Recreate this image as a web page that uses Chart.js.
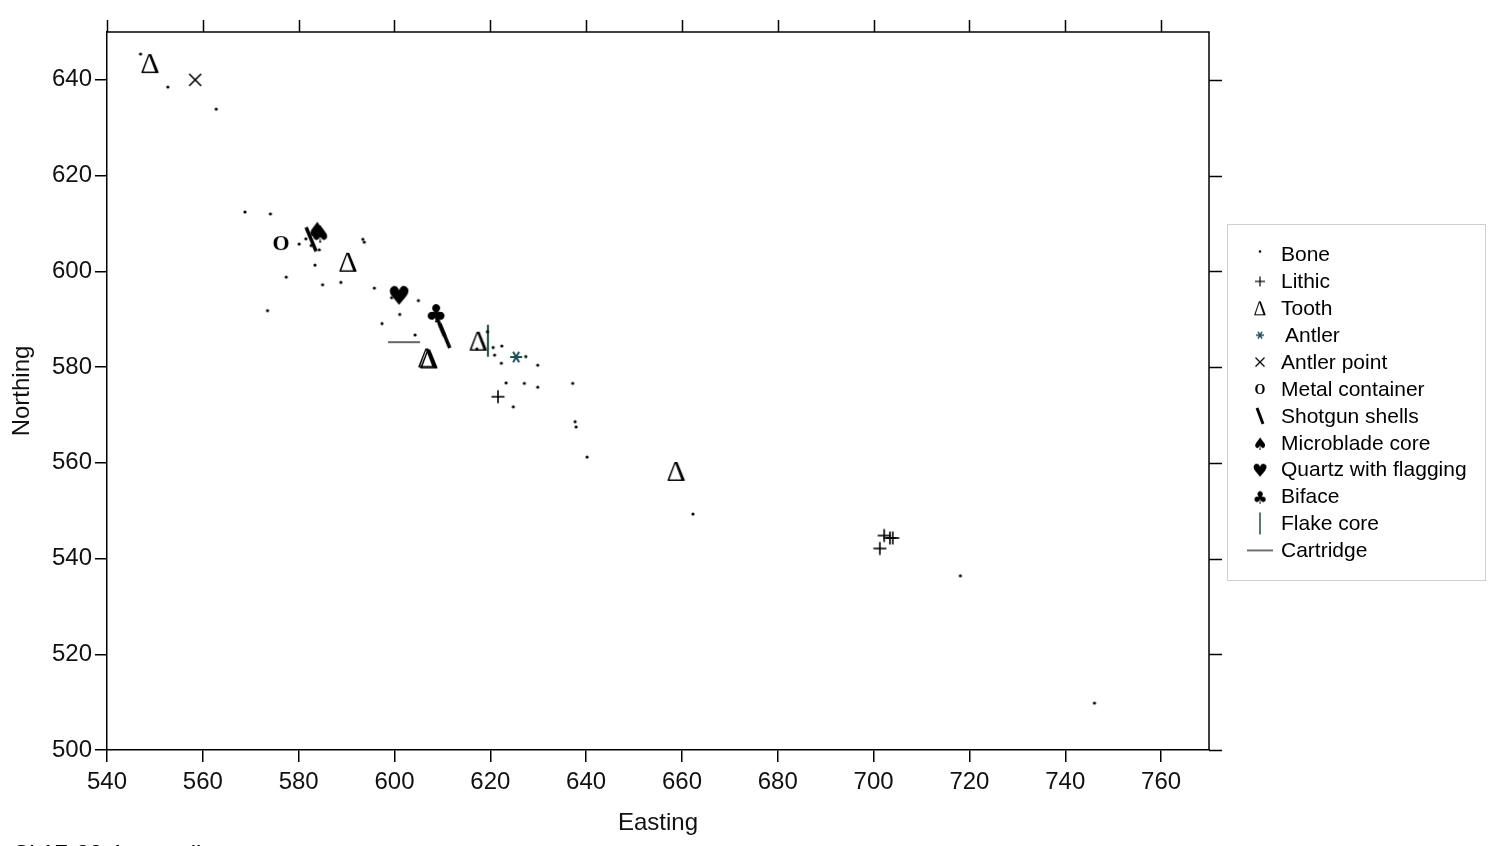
<!DOCTYPE html>
<html>
<head>
<meta charset="utf-8">
<script src="https://cdn.jsdelivr.net/npm/chart.js@4.4.0/dist/chart.umd.min.js"></script>
<style>
  html, body { margin: 0; padding: 0; background: #fff; overflow: hidden; }
  #wrap { position: relative; width: 1494px; height: 846px; }
  #caption { position: absolute; left: 12px; top: 840px; font: 24px "Liberation Sans", Arial, sans-serif; color: #000; white-space: nowrap; }
</style>
</head>
<body>
<div id="wrap">
  <canvas id="plot" width="1494" height="846"></canvas>
  <div id="caption">Cl 17-28-1 overall</div>
</div>
<script>
// axis ticks
const xTicks = [540, 560, 580, 600, 620, 640, 660, 680, 700, 720, 740, 760];
const yTicks = [500, 520, 540, 560, 580, 600, 620, 640];

// finds as [easting, northing]
const bone = [[547.0, 645.4], [552.7, 638.5], [562.8, 633.9], [568.8, 612.4], [574.1, 612.0],
  [580.1, 605.7], [581.5, 606.8], [582.6, 605.4], [584.3, 604.5], [583.4, 601.3], [577.4, 598.8],
  [585.0, 597.2], [588.8, 597.7], [593.4, 606.7], [593.7, 606.1], [573.5, 591.8], [595.8, 596.5],
  [599.4, 594.5], [605.0, 593.9], [601.1, 591.0], [597.4, 589.1], [604.3, 586.7], [619.4, 587.4],
  [617.2, 583.8], [620.6, 584.1], [622.4, 584.4], [620.9, 582.5], [622.3, 580.8], [627.4, 582.2],
  [629.9, 580.4], [623.3, 576.7], [627.1, 576.6], [629.9, 575.8], [637.2, 576.6], [624.8, 571.7],
  [637.7, 568.6], [637.9, 567.5], [640.2, 561.2], [662.3, 549.3], [718.1, 536.4], [746.1, 509.8]];
const lithic = [[621.6, 573.8], [701.3, 542.1], [702.2, 544.8], [703.4, 544.3], [704.0, 544.3]];
const tooth = [[549.0, 643.5], [590.3, 602.0], [606.8, 582.0], [607.2, 581.8], [617.5, 585.5], [658.8, 558.3]];
const antler = [[625.4, 582.1]];
const antlerPoint = [[558.4, 640.0]];
const metalContainer = [[576.3, 605.9]];
const shotgunShells = [[582.6, 606.7], [609.4, 589.0], [610.5, 586.5]];
const microbladeCore = [[583.9, 608.6], [584.5, 607.9]];
const quartzFlagging = [[601.0, 595.1]];
const biface = [[608.7, 591.3]];
const flakeCore = [[619.5, 585.5]];
const cartridge = [[602.0, 585.2]];

const FONT = '"Liberation Sans", Arial, sans-serif';

// draw a marker into a small canvas; big = plot size, otherwise legend size
function glyph(kind, big) {
  const c = document.createElement('canvas');
  const box = big ? 40 : 30;
  c.width = box; c.height = box;
  const g = c.getContext('2d');
  const m = box / 2;
  g.strokeStyle = '#000';
  g.fillStyle = '#000';
  g.lineCap = 'butt';

  function line(x1, y1, x2, y2, w, col) {
    g.beginPath();
    g.lineWidth = w;
    g.strokeStyle = col || '#000';
    g.moveTo(m + x1, m + y1);
    g.lineTo(m + x2, m + y2);
    g.stroke();
  }
  function text(t, font, dy) {
    g.font = font;
    g.textAlign = 'center';
    g.textBaseline = 'alphabetic';
    const mt = g.measureText(t);
    const y = m + (mt.actualBoundingBoxAscent - mt.actualBoundingBoxDescent) / 2 + (dy || 0);
    g.fillText(t, m, y);
  }

  if (kind === 'bone') {
    g.beginPath();
    g.arc(m, m + (big ? 0 : -3), big ? 1.6 : 1.3, 0, Math.PI * 2);
    g.fill();
  } else if (kind === 'lithic') {
    const r = big ? 6.5 : 5;
    line(-r, 0, r, 0, big ? 1.6 : 1.2);
    line(0, -r, 0, r, big ? 1.6 : 1.2);
  } else if (kind === 'tooth') {
    text('\u0394', big ? '30px "Liberation Serif", serif' : '20px "Liberation Serif", serif');
  } else if (kind === 'antler') {
    const r = big ? 6 : 4;
    const col = '#1f4d58';
    for (let a = 0; a < 3; a++) {
      const t = a * Math.PI / 3;
      line(-r * Math.cos(t), -r * Math.sin(t), r * Math.cos(t), r * Math.sin(t), big ? 2 : 1.5, col);
    }
  } else if (kind === 'antlerPoint') {
    const r = big ? 6 : 4.5;
    line(-r, -r, r, r, big ? 1.6 : 1.2);
    line(-r, r, r, -r, big ? 1.6 : 1.2);
  } else if (kind === 'metal') {
    text('O', big ? 'bold 22px "Liberation Serif", serif' : 'bold 14px "Liberation Serif", serif');
  } else if (kind === 'shotgun') {
    if (big) line(-5, -12, 5, 12, 3.5);
    else line(-3, -8, 3, 8, 3);
  } else if (kind === 'microblade') {
    text('\u2660', big ? '24px "DejaVu Sans", sans-serif' : '17px "DejaVu Sans", sans-serif');
  } else if (kind === 'quartz') {
    text('\u2665', big ? '26px "DejaVu Sans", sans-serif' : '18px "DejaVu Sans", sans-serif');
  } else if (kind === 'biface') {
    text('\u2663', big ? '25px "DejaVu Sans", sans-serif' : '17px "DejaVu Sans", sans-serif');
  } else if (kind === 'flake') {
    if (big) line(0, -16, 0, 16, 2.2, '#2d5a4a');
    else line(0, -11, 0, 11, 1.6, '#2d5a4a');
  } else if (kind === 'cartridge') {
    if (big) line(-16, 0, 16, 0, 1.8, '#555');
    else line(-13, 0, 13, 0, 1.4, '#333');
  }
  return c;
}

const series = [
  { label: 'Bone', kind: 'bone', data: bone },
  { label: 'Lithic', kind: 'lithic', data: lithic },
  { label: 'Tooth', kind: 'tooth', data: tooth },
  { label: 'Antler', kind: 'antler', data: antler },
  { label: 'Antler point', kind: 'antlerPoint', data: antlerPoint },
  { label: 'Metal container', kind: 'metal', data: metalContainer },
  { label: 'Shotgun shells', kind: 'shotgun', data: shotgunShells },
  { label: 'Microblade core', kind: 'microblade', data: microbladeCore },
  { label: 'Quartz with flagging', kind: 'quartz', data: quartzFlagging },
  { label: 'Biface', kind: 'biface', data: biface },
  { label: 'Flake core', kind: 'flake', data: flakeCore },
  { label: 'Cartridge', kind: 'cartridge', data: cartridge }
];

const datasets = series.map(s => ({
  label: s.label,
  data: s.data.map(p => ({ x: p[0], y: p[1] })),
  pointStyle: glyph(s.kind, true),
  pointRadius: 5,
  pointHoverRadius: 5,
  showLine: false,
  legendGlyph: glyph(s.kind, false)
}));

// top and right frame with mirrored ticks
const framePlugin = {
  id: 'frame',
  afterDraw(chart) {
    const { ctx, chartArea: a, scales } = chart;
    ctx.save();
    ctx.strokeStyle = '#000';
    ctx.lineWidth = 1.5;
    ctx.beginPath();
    ctx.moveTo(a.left, a.top);
    ctx.lineTo(a.right, a.top);
    ctx.lineTo(a.right, a.bottom);
    scales.x.ticks.forEach(t => {
      const px = Math.round(scales.x.getPixelForValue(t.value)) + 0.5;
      ctx.moveTo(px, a.top - 12);
      ctx.lineTo(px, a.top);
    });
    scales.y.ticks.forEach(t => {
      const py = Math.round(scales.y.getPixelForValue(t.value)) + 0.5;
      ctx.moveTo(a.right, py);
      ctx.lineTo(a.right + 13, py);
    });
    ctx.stroke();
    ctx.restore();
  }
};

// boxed legend on the right
const legendPlugin = {
  id: 'boxLegend',
  afterDraw(chart) {
    const ctx = chart.ctx;
    ctx.save();
    ctx.strokeStyle = '#d0d0d0';
    ctx.lineWidth = 1;
    ctx.strokeRect(1227.5, 224.5, 258, 356);
    ctx.font = '21px ' + FONT;
    ctx.fillStyle = '#000';
    ctx.textBaseline = 'middle';
    chart.data.datasets.forEach((ds, i) => {
      const y = 254.5 + i * 26.9;
      const img = ds.legendGlyph;
      ctx.drawImage(img, 1260 - img.width / 2, y - img.height / 2);
      ctx.fillText(ds.label, ds.label === 'Antler' ? 1285 : 1281, y + 1);
    });
    ctx.restore();
  }
};

const tickFont = { family: FONT, size: 24 };

new Chart(document.getElementById('plot'), {
  type: 'scatter',
  data: { datasets: datasets },
  options: {
    responsive: false,
    animation: false,
    events: [],
    layout: { padding: { top: 32, right: 285, left: 0, bottom: 0 } },
    plugins: { legend: { display: false }, tooltip: { enabled: false } },
    scales: {
      x: {
        type: 'linear',
        min: 540,
        max: 770,
        afterBuildTicks: s => { s.ticks = xTicks.map(v => ({ value: v })); },
        afterFit: s => { s.height = 96; },
        ticks: { font: tickFont, color: '#111', padding: 6, maxRotation: 0, autoSkip: false },
        grid: { drawOnChartArea: false, color: '#000', lineWidth: 1.5, tickLength: 12 },
        border: { color: '#000', width: 1.5 },
        title: { display: true, text: 'Easting', font: { family: FONT, size: 24 }, color: '#111', padding: { top: 0, bottom: 8 } }
      },
      y: {
        type: 'linear',
        min: 500,
        max: 650,
        afterBuildTicks: s => { s.ticks = yTicks.map(v => ({ value: v })); },
        afterFit: s => { s.width = 107; },
        ticks: { font: tickFont, color: '#111', padding: 3, autoSkip: false },
        grid: { drawOnChartArea: false, color: '#000', lineWidth: 1.5, tickLength: 12 },
        border: { color: '#000', width: 1.5 },
        title: { display: true, text: 'Northing', font: { family: FONT, size: 24 }, color: '#111', padding: { top: 8, bottom: 0 } }
      }
    }
  },
  plugins: [framePlugin, legendPlugin]
});
</script>
</body>
</html>
